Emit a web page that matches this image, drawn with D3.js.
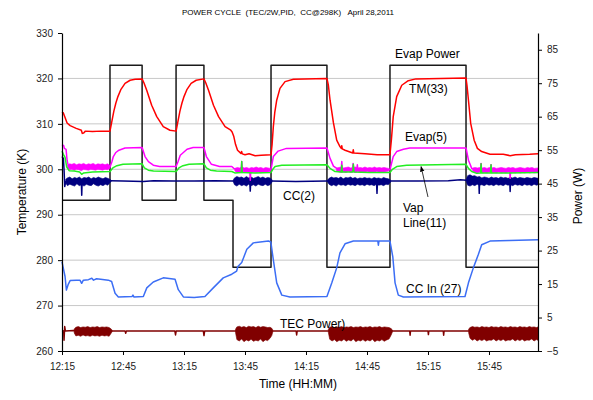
<!DOCTYPE html>
<html>
<head>
<meta charset="utf-8">
<script src="https://cdn.jsdelivr.net/npm/d3@7"></script>
<style>
  body { margin: 0; background: #fff; }
  svg text { font-family: "Liberation Sans", Arial, sans-serif; }
</style>
</head>
<body>
<svg id="chart" width="593" height="400"></svg>
<script>
// ---- axis ticks ----
const timeTicks  = ["12:15", "12:45", "13:15", "13:45", "14:15", "14:45", "15:15", "15:45"];
const tempTicks  = [260, 270, 280, 290, 300, 310, 320, 330];
const powerTicks = [-5, 5, 15, 25, 35, 45, 55, 65, 75, 85];

// ---- Evap heater power (W), stepped set-points ----
const evapPower = [
  ["12:15:00", 40], ["12:38:36", 80.4], ["12:54:24", 40], ["13:11:06", 80.4], ["13:24:48", 40],
  ["13:39:06", 20], ["13:57:48", 80.4], ["14:25:18", 20], ["14:56:18", 80.4], ["15:33:42", 20],
  ["16:09:06", 20]
];

// ---- TM(33) temperature (K) ----
const tm33 = [
  ["12:15:00", 312.6], ["12:15:40", 312.4], ["12:16:30", 311.4], ["12:17:30", 310.2], ["12:19:00", 309.6],
  ["12:22:00", 309.0], ["12:24:30", 308.6], ["12:25:00", 307.9], ["12:25:40", 308.0], ["12:26:30", 308.4],
  ["12:30:00", 308.3], ["12:34:00", 308.4], ["12:38:36", 308.4],
  ["12:39:30", 310.5], ["12:40:30", 312.8], ["12:41:30", 314.6], ["12:42:30", 316.0], ["12:44:00", 317.6],
  ["12:46:00", 318.9], ["12:48:30", 319.6], ["12:51:00", 319.8], ["12:54:24", 319.9],
  ["12:55:20", 319.0], ["12:56:40", 317.4], ["12:59:06", 314.1], ["13:01:36", 311.6], ["13:04:48", 309.4],
  ["13:08:06", 308.6], ["13:11:06", 308.4],
  ["13:12:00", 310.5], ["13:13:00", 312.8], ["13:14:00", 314.6], ["13:15:00", 316.0], ["13:16:30", 317.6],
  ["13:18:30", 318.9], ["13:21:00", 319.6], ["13:24:48", 319.9],
  ["13:25:44", 319.0], ["13:27:04", 317.4], ["13:29:30", 314.1], ["13:32:00", 311.6], ["13:35:12", 309.4],
  ["13:38:00", 308.6], ["13:38:40", 308.2], ["13:39:30", 307.2], ["13:40:20", 305.5], ["13:41:20", 304.2],
  ["13:43:00", 303.5], ["13:43:20", 303.9], ["13:43:40", 303.4], ["13:45:00", 303.2], ["13:47:00", 303.4],
  ["13:50:00", 303.0], ["13:53:00", 303.1], ["13:57:48", 303.2],
  ["13:58:20", 305.5], ["13:58:56", 309.4], ["13:59:40", 312.6], ["14:00:36", 315.2], ["14:02:12", 317.8],
  ["14:04:42", 319.3], ["14:08:48", 319.8], ["14:25:18", 320.0],
  ["14:26:00", 318.5], ["14:26:50", 315.2], ["14:28:30", 310.2], ["14:30:06", 306.4], ["14:31:42", 305.0],
  ["14:32:20", 304.6], ["14:32:35", 305.2], ["14:32:50", 304.5], ["14:34:12", 304.2], ["14:38:00", 303.6],
  ["14:38:15", 304.3], ["14:38:30", 303.6], ["14:44:00", 303.4], ["14:50:00", 303.2], ["14:56:18", 303.2],
  ["14:57:00", 306.5], ["14:57:54", 311.6], ["14:59:36", 316.0], ["15:02:06", 318.5], ["15:05:18", 319.5],
  ["15:09:00", 319.9], ["15:33:42", 320.1],
  ["15:34:10", 318.5], ["15:34:54", 315.2], ["15:36:00", 310.1], ["15:37:42", 306.4], ["15:39:18", 304.6],
  ["15:41:24", 303.9], ["15:45:30", 303.3], ["15:52:00", 303.3], ["15:55:24", 303.0], ["15:58:00", 303.2],
  ["16:05:00", 303.3], ["16:09:06", 303.4]
];

// ---- Evap(5) temperature (K) ----
const evap5 = [
  ["12:15:00", 305.4], ["12:15:50", 305.2], ["12:16:10", 304.6], ["12:17:00", 304.4], ["12:17:30", 302.0],
  ["12:18:10", 300.6], ["12:20:00", 300.5], ["12:25:00", 300.4], ["12:30:00", 300.5], ["12:38:36", 300.5],
  ["12:39:30", 301.6], ["12:40:15", 302.8], ["12:41:30", 303.7], ["12:43:00", 304.2], ["12:46:00", 304.7],
  ["12:54:24", 304.8],
  ["12:55:50", 302.8], ["12:57:30", 301.7], ["12:59:54", 300.9], ["13:03:00", 300.6], ["13:11:06", 300.6],
  ["13:12:00", 301.6], ["13:13:10", 303.1], ["13:16:30", 304.4], ["13:19:30", 304.8], ["13:24:48", 304.8],
  ["13:26:00", 302.8], ["13:28:30", 301.1], ["13:32:30", 300.6], ["13:38:30", 300.6], ["13:39:30", 300.2],
  ["13:41:00", 299.9], ["13:43:10", 299.9], ["13:43:24", 301.7], ["13:43:38", 299.9], ["13:47:20", 299.8],
  ["13:47:36", 297.6], ["13:47:52", 299.8], ["13:57:48", 299.9],
  ["13:58:56", 302.8], ["14:01:18", 304.0], ["14:05:24", 304.6], ["14:25:18", 304.7],
  ["14:26:50", 302.4], ["14:28:30", 300.7], ["14:30:06", 300.2], ["14:32:20", 299.9], ["14:32:36", 301.7],
  ["14:32:52", 299.9], ["14:37:50", 299.9], ["14:38:10", 301.3], ["14:38:30", 299.9], ["14:40:00", 299.9],
  ["14:40:15", 301.0], ["14:40:30", 299.9], ["14:56:18", 299.9],
  ["14:57:54", 302.8], ["14:59:36", 303.9], ["15:02:54", 304.4], ["15:06:00", 304.7], ["15:33:42", 304.7],
  ["15:34:54", 302.0], ["15:36:30", 300.2], ["15:39:00", 299.8], ["15:40:50", 299.8], ["15:41:06", 301.3],
  ["15:41:22", 299.8], ["15:45:45", 299.8], ["15:46:00", 301.0], ["15:46:15", 299.8], ["15:55:10", 299.8],
  ["15:55:24", 298.0], ["15:55:40", 299.8], ["16:09:06", 299.8]
];

// Evap(5) scatter envelope while the loop is idling: [time, low, high] (K)
const evap5Noise = [
  [["12:17:50", 300.3, 300.9], ["12:18:40", 299.9, 301.2], ["12:19:50", 300.0, 301.1], ["12:21:00", 299.8, 301.3],
   ["12:22:10", 300.0, 301.0], ["12:23:20", 299.9, 301.2], ["12:24:30", 299.7, 301.1], ["12:25:40", 300.0, 301.3],
   ["12:26:50", 299.9, 301.0], ["12:28:00", 299.8, 301.2], ["12:29:10", 300.0, 301.1], ["12:30:20", 299.9, 301.3],
   ["12:31:30", 299.8, 301.0], ["12:32:40", 300.0, 301.2], ["12:33:50", 299.9, 301.1], ["12:35:00", 299.8, 301.2],
   ["12:36:10", 300.0, 301.0], ["12:37:20", 299.9, 301.2], ["12:38:30", 300.2, 300.9]],
  [["13:40:00", 299.6, 300.2], ["13:41:10", 299.3, 300.4], ["13:42:20", 299.4, 300.3], ["13:43:30", 299.2, 300.5],
   ["13:44:40", 299.4, 300.3], ["13:45:50", 299.3, 300.4], ["13:47:00", 299.4, 300.2], ["13:48:10", 299.2, 300.4],
   ["13:49:20", 299.4, 300.3], ["13:50:30", 299.3, 300.5], ["13:51:40", 299.4, 300.3], ["13:52:50", 299.2, 300.4],
   ["13:54:00", 299.4, 300.2], ["13:55:10", 299.3, 300.4], ["13:56:20", 299.4, 300.3], ["13:57:30", 299.5, 300.2]],
  [["14:30:00", 299.7, 300.3], ["14:31:10", 299.4, 300.4], ["14:32:20", 299.3, 300.5], ["14:33:30", 299.4, 300.3],
   ["14:34:40", 299.3, 300.4], ["14:35:50", 299.5, 300.5], ["14:37:00", 299.3, 300.3], ["14:38:10", 299.4, 300.4],
   ["14:39:20", 299.3, 300.5], ["14:40:30", 299.5, 300.3], ["14:41:40", 299.3, 300.4], ["14:42:50", 299.4, 300.3],
   ["14:44:00", 299.3, 300.5], ["14:45:10", 299.5, 300.3], ["14:46:20", 299.3, 300.4], ["14:47:30", 299.4, 300.3],
   ["14:48:40", 299.3, 300.5], ["14:49:50", 299.5, 300.3], ["14:51:00", 299.3, 300.4], ["14:52:10", 299.4, 300.3],
   ["14:53:20", 299.3, 300.4], ["14:54:30", 299.5, 300.3], ["14:55:40", 299.6, 300.2]],
  [["15:37:00", 299.6, 300.3], ["15:38:10", 299.3, 300.4], ["15:39:20", 299.2, 300.3], ["15:40:30", 299.4, 300.4],
   ["15:41:40", 299.2, 300.3], ["15:42:50", 299.3, 300.4], ["15:44:00", 299.2, 300.2], ["15:45:10", 299.4, 300.4],
   ["15:46:20", 299.2, 300.3], ["15:47:30", 299.3, 300.4], ["15:48:40", 299.2, 300.2], ["15:49:50", 299.4, 300.3],
   ["15:51:00", 299.2, 300.4], ["15:52:10", 299.3, 300.3], ["15:53:20", 299.2, 300.2], ["15:54:30", 299.4, 300.4],
   ["15:55:40", 299.2, 300.3], ["15:56:50", 299.3, 300.4], ["15:58:00", 299.2, 300.2], ["15:59:10", 299.4, 300.3],
   ["16:00:20", 299.2, 300.4], ["16:01:30", 299.3, 300.3], ["16:02:40", 299.2, 300.2], ["16:03:50", 299.4, 300.4],
   ["16:05:00", 299.2, 300.3], ["16:06:10", 299.3, 300.4], ["16:07:20", 299.2, 300.2], ["16:09:06", 299.3, 300.3]]
];

// ---- Vap Line(11) temperature (K) ----
const vapLine11 = [
  ["12:15:00", 304.0], ["12:15:40", 303.3], ["12:16:30", 302.6], ["12:17:20", 300.5], ["12:18:30", 299.7],
  ["12:21:00", 299.6], ["12:23:40", 299.4], ["12:24:40", 298.9], ["12:25:40", 299.2], ["12:30:00", 299.4],
  ["12:38:36", 299.5],
  ["12:40:00", 300.3], ["12:42:00", 300.8], ["12:45:00", 301.1], ["12:54:24", 301.2],
  ["12:55:30", 300.3], ["12:57:30", 299.8], ["13:00:00", 299.6], ["13:11:06", 299.5],
  ["13:12:30", 300.3], ["13:14:30", 300.8], ["13:17:30", 301.1], ["13:24:48", 301.2],
  ["13:26:00", 300.3], ["13:28:00", 299.8], ["13:31:00", 299.6], ["13:38:30", 299.5], ["13:40:00", 299.2],
  ["13:43:10", 299.3], ["13:43:24", 301.7], ["13:43:38", 299.3], ["13:50:00", 299.2], ["13:57:48", 299.3],
  ["13:58:40", 300.0], ["13:59:48", 300.6], ["14:03:06", 300.9], ["14:25:18", 301.0],
  ["14:26:50", 300.2], ["14:29:18", 299.5], ["14:32:20", 299.4], ["14:32:36", 300.9], ["14:32:52", 299.4],
  ["14:38:00", 299.4], ["14:38:18", 301.1], ["14:38:36", 299.4], ["14:46:00", 299.3], ["14:56:18", 299.3],
  ["14:57:30", 300.0], ["14:59:36", 300.6], ["15:04:30", 300.9], ["15:33:42", 301.1],
  ["15:34:54", 300.2], ["15:36:30", 299.5], ["15:39:00", 299.1], ["15:40:50", 299.2], ["15:41:06", 301.2],
  ["15:41:22", 299.2], ["15:45:45", 299.2], ["15:46:00", 301.0], ["15:46:15", 299.2], ["15:55:00", 299.2],
  ["16:09:06", 299.3]
];

// ---- CC(2) temperature (K) ----
const cc2 = [
  ["12:15:00", 302.8], ["12:15:40", 302.4], ["12:16:00", 300.0], ["12:16:20", 296.2], ["12:16:50", 297.3],
  ["12:20:00", 297.4], ["12:24:30", 297.4], ["12:24:42", 294.3], ["12:24:54", 297.4], ["12:30:00", 297.5],
  ["12:38:36", 297.5], ["12:45:00", 297.4], ["12:55:00", 297.3], ["13:00:00", 297.5], ["13:10:00", 297.4],
  ["13:20:00", 297.4], ["13:30:00", 297.5], ["13:39:06", 297.4], ["13:47:20", 297.4], ["13:47:35", 295.2],
  ["13:47:50", 297.4], ["13:57:48", 297.4], ["14:10:00", 297.3], ["14:25:18", 297.4], ["14:49:40", 297.4],
  ["14:49:55", 294.7], ["14:50:10", 297.4], ["14:56:18", 297.4], ["15:10:00", 297.4], ["15:25:00", 297.5],
  ["15:31:00", 297.7], ["15:33:42", 297.6], ["15:40:00", 297.5], ["15:40:12", 294.7], ["15:40:24", 297.5],
  ["15:55:12", 297.4], ["15:55:24", 295.1], ["15:55:36", 297.4], ["16:09:06", 297.4]
];

// CC(2) scatter envelope while the loop is idling: [time, low, high] (K)
const cc2Noise = [
  [["12:16:50", 297.0, 297.8], ["12:17:40", 296.4, 298.1], ["12:18:50", 296.7, 298.3], ["12:20:00", 296.5, 297.9],
   ["12:21:10", 296.3, 298.2], ["12:22:20", 296.8, 298.0], ["12:23:30", 296.4, 298.3], ["12:24:40", 296.6, 297.9],
   ["12:25:50", 296.3, 298.2], ["12:27:00", 296.7, 298.1], ["12:28:10", 296.5, 298.3], ["12:29:20", 296.4, 297.9],
   ["12:30:30", 296.8, 298.2], ["12:31:40", 296.5, 298.0], ["12:32:50", 296.3, 298.3], ["12:34:00", 296.6, 298.1],
   ["12:35:10", 296.4, 297.9], ["12:36:20", 296.7, 298.2], ["12:37:30", 296.5, 298.0], ["12:38:30", 297.0, 297.8],
   ["12:39:10", 297.3, 297.6]],
  [["13:39:10", 297.3, 297.6], ["13:39:50", 296.6, 298.1], ["13:41:00", 296.3, 298.4], ["13:42:10", 296.7, 298.2],
   ["13:43:20", 296.4, 298.3], ["13:44:30", 296.6, 298.0], ["13:45:40", 296.3, 298.4], ["13:46:50", 296.7, 298.1],
   ["13:48:00", 296.4, 298.3], ["13:49:10", 296.6, 298.0], ["13:50:20", 296.3, 298.2], ["13:51:30", 296.7, 298.4],
   ["13:52:40", 296.5, 298.1], ["13:53:50", 296.4, 298.3], ["13:55:00", 296.7, 298.0], ["13:56:10", 296.4, 298.2],
   ["13:57:20", 296.6, 298.1], ["13:58:20", 297.2, 297.7]],
  [["14:25:30", 297.3, 297.6], ["14:26:20", 296.7, 298.0], ["14:27:30", 296.4, 298.3], ["14:28:40", 296.6, 298.1],
   ["14:29:50", 296.3, 298.2], ["14:31:00", 296.7, 298.0], ["14:32:10", 296.5, 298.3], ["14:33:20", 296.6, 297.9],
   ["14:34:30", 296.4, 298.2], ["14:35:40", 296.7, 298.1], ["14:36:50", 296.5, 298.3], ["14:38:00", 296.6, 298.0],
   ["14:39:10", 296.4, 298.2], ["14:40:20", 296.7, 297.9], ["14:41:30", 296.5, 298.1], ["14:42:40", 296.6, 298.0],
   ["14:43:50", 296.4, 298.2], ["14:45:00", 296.7, 298.0], ["14:46:10", 296.5, 298.1], ["14:47:20", 296.6, 297.9],
   ["14:48:30", 296.4, 298.2], ["14:49:40", 296.7, 298.0], ["14:50:50", 296.5, 298.1], ["14:52:00", 296.6, 297.9],
   ["14:53:10", 296.4, 298.2], ["14:54:20", 296.7, 298.0], ["14:55:30", 296.6, 297.9], ["14:56:40", 297.2, 297.6]],
  [["15:33:50", 297.3, 297.8], ["15:34:30", 296.5, 298.6], ["15:35:40", 296.3, 298.8], ["15:36:50", 296.6, 298.5],
   ["15:38:00", 296.4, 298.6], ["15:39:10", 296.7, 298.3], ["15:40:20", 296.5, 298.4], ["15:41:30", 296.6, 298.1],
   ["15:42:40", 296.4, 298.3], ["15:43:50", 296.7, 298.2], ["15:45:00", 296.5, 298.0], ["15:46:10", 296.6, 298.3],
   ["15:47:20", 296.4, 298.1], ["15:48:30", 296.7, 298.2], ["15:49:40", 296.5, 298.0], ["15:50:50", 296.6, 298.3],
   ["15:52:00", 296.4, 298.1], ["15:53:10", 296.7, 298.2], ["15:54:20", 296.5, 298.0], ["15:55:30", 296.6, 298.2],
   ["15:56:40", 296.4, 298.1], ["15:57:50", 296.7, 298.3], ["15:59:00", 296.5, 298.0], ["16:00:10", 296.6, 298.2],
   ["16:01:20", 296.4, 298.1], ["16:02:30", 296.7, 298.0], ["16:03:40", 296.5, 298.2], ["16:04:50", 296.6, 298.1],
   ["16:06:00", 296.4, 298.0], ["16:07:10", 296.7, 298.2], ["16:08:20", 296.5, 298.1], ["16:09:06", 296.6, 298.0]]
];

// ---- CC In (27) temperature (K) ----
const ccIn27 = [
  ["12:15:00", 279.6], ["12:15:40", 278.2], ["12:16:30", 276.4], ["12:17:10", 273.4], ["12:18:00", 274.6],
  ["12:19:00", 275.5], ["12:22:00", 275.6], ["12:23:50", 275.6], ["12:24:40", 274.9], ["12:25:30", 275.6],
  ["12:28:00", 275.7], ["12:29:40", 276.0], ["12:30:30", 275.6], ["12:32:00", 275.9], ["12:34:00", 275.8],
  ["12:37:48", 275.6],
  ["12:39:24", 275.3], ["12:41:06", 272.7], ["12:42:42", 271.9], ["12:49:30", 272.0], ["12:49:54", 272.3],
  ["12:50:20", 271.9], ["12:55:00", 272.0],
  ["12:56:42", 273.9], ["12:59:54", 275.2], ["13:04:48", 276.1], ["13:10:36", 275.8],
  ["13:12:12", 273.5], ["13:14:42", 271.9], ["13:20:00", 271.8], ["13:25:18", 272.0],
  ["13:29:24", 273.9], ["13:34:18", 276.1], ["13:38:30", 276.9], ["13:40:54", 277.6], ["13:41:30", 278.6],
  ["13:43:24", 279.5], ["13:45:54", 282.4], ["13:49:06", 283.8], ["13:56:30", 284.2], ["13:57:42", 284.0],
  ["13:58:54", 280.2], ["14:00:36", 275.0], ["14:03:06", 272.3], ["14:07:06", 271.9], ["14:25:18", 272.0],
  ["14:27:42", 275.0], ["14:30:06", 278.3], ["14:31:42", 281.6], ["14:34:12", 283.6], ["14:38:18", 284.2],
  ["14:50:20", 284.2], ["14:50:36", 283.3], ["14:50:52", 284.2], ["14:56:18", 284.2],
  ["14:57:42", 280.7], ["14:58:48", 275.0], ["15:00:24", 272.3], ["15:02:54", 271.9], ["15:33:12", 272.0],
  ["15:34:54", 275.0], ["15:37:18", 278.3], ["15:39:48", 281.3], ["15:41:24", 283.4], ["15:45:30", 284.2],
  ["15:55:00", 284.3], ["16:09:06", 284.5]
];

// ---- TEC power (W) ----
const tecPower = [
  ["12:15:00", 1.1], ["12:15:50", 1.0], ["12:16:00", -1.8], ["12:16:20", 2.3], ["12:16:40", 1.0],
  ["12:20:30", 1.1], ["12:39:40", 1.0], ["12:46:00", 1.0], ["12:46:20", 0.3], ["12:46:40", 1.0],
  ["13:10:30", 1.0], ["13:10:50", -0.2], ["13:11:10", 1.0], ["13:24:30", 1.0], ["13:24:50", -0.4],
  ["13:25:10", 1.0], ["13:39:30", 1.0], ["13:58:30", 1.0], ["14:10:10", 1.0], ["14:10:24", -0.2],
  ["14:10:40", 1.0], ["14:25:30", 1.0], ["14:57:00", 1.0], ["15:06:00", 1.0], ["15:06:12", -0.3],
  ["15:06:24", 1.0], ["15:15:00", 1.0], ["15:15:12", -0.1], ["15:15:24", 1.0], ["15:22:30", 1.0],
  ["15:22:42", -0.3], ["15:22:54", 1.0], ["15:34:00", 1.0], ["16:09:06", 1.0]
];

// TEC power scatter envelope while regulating: [time, low, high] (W)
const tecNoise = [
  [["12:21:00", 0.4, 1.6], ["12:21:50", -0.5, 2.1], ["12:23:00", -0.3, 2.3], ["12:24:10", -0.6, 2.0],
   ["12:25:20", -0.2, 2.2], ["12:26:30", -0.5, 2.1], ["12:27:40", -0.4, 2.3], ["12:28:50", -0.6, 2.0],
   ["12:30:00", -0.3, 2.2], ["12:31:10", -0.5, 2.1], ["12:32:20", -0.4, 2.3], ["12:33:30", -0.6, 2.0],
   ["12:34:40", -0.3, 2.2], ["12:35:50", -0.5, 2.1], ["12:37:00", -0.4, 2.2], ["12:38:10", -0.6, 2.0],
   ["12:39:10", 0.3, 1.6], ["12:39:40", 0.8, 1.2]],
  [["13:40:20", 0.5, 1.5], ["13:41:00", -1.6, 2.2], ["13:42:10", -2.0, 2.4], ["13:43:20", -1.4, 2.1],
   ["13:44:30", -2.2, 2.3], ["13:45:40", -1.7, 2.0], ["13:46:50", -2.0, 2.4], ["13:48:00", -1.5, 2.2],
   ["13:49:10", -2.1, 2.3], ["13:50:20", -1.8, 2.0], ["13:51:30", -2.0, 2.4], ["13:52:40", -1.4, 2.1],
   ["13:53:50", -2.2, 2.3], ["13:55:00", -1.7, 2.2], ["13:56:10", -1.9, 2.0], ["13:57:20", -1.2, 2.1],
   ["13:58:10", -0.4, 1.8], ["13:58:40", 0.7, 1.3]],
  [["14:26:00", 0.5, 1.5], ["14:26:40", -1.5, 2.1], ["14:27:50", -2.0, 2.3], ["14:29:00", -1.6, 2.0],
   ["14:30:10", -2.2, 2.2], ["14:31:20", -1.8, 2.1], ["14:32:30", -2.0, 2.3], ["14:33:40", -1.5, 2.0],
   ["14:34:50", -2.1, 2.2], ["14:36:00", -1.7, 2.1], ["14:37:10", -2.0, 2.3], ["14:38:20", -1.4, 2.0],
   ["14:39:30", -2.2, 2.2], ["14:40:40", -1.8, 2.1], ["14:41:50", -2.0, 2.3], ["14:43:00", -1.6, 2.0],
   ["14:44:10", -2.1, 2.2], ["14:45:20", -1.7, 2.1], ["14:46:30", -2.0, 2.3], ["14:47:40", -1.5, 2.0],
   ["14:48:50", -2.2, 2.2], ["14:50:00", -1.8, 2.1], ["14:51:10", -2.0, 2.3], ["14:52:20", -1.6, 2.0],
   ["14:53:30", -2.1, 2.2], ["14:54:40", -1.7, 2.1], ["14:55:50", -1.4, 2.0], ["14:56:50", -0.3, 1.7],
   ["14:57:30", 0.7, 1.3]],
  [["15:35:00", 0.4, 1.6], ["15:35:40", -1.2, 2.0], ["15:36:50", -1.8, 2.3], ["15:38:00", -1.4, 2.1],
   ["15:39:10", -2.0, 2.2], ["15:40:20", -1.6, 2.0], ["15:41:30", -1.9, 2.3], ["15:42:40", -1.5, 2.1],
   ["15:43:50", -2.0, 2.2], ["15:45:00", -1.7, 2.0], ["15:46:10", -1.8, 2.3], ["15:47:20", -1.4, 2.1],
   ["15:48:30", -2.0, 2.2], ["15:49:40", -1.6, 2.0], ["15:50:50", -1.9, 2.3], ["15:52:00", -1.5, 2.1],
   ["15:53:10", -2.0, 2.2], ["15:54:20", -1.7, 2.0], ["15:55:30", -1.8, 2.3], ["15:56:40", -1.4, 2.1],
   ["15:57:50", -2.0, 2.2], ["15:59:00", -1.6, 2.0], ["16:00:10", -1.9, 2.3], ["16:01:20", -1.5, 2.1],
   ["16:02:30", -2.0, 2.2], ["16:03:40", -1.7, 2.0], ["16:04:50", -1.8, 2.3], ["16:06:00", -1.4, 2.1],
   ["16:07:10", -2.0, 2.2], ["16:08:20", -1.6, 2.0], ["16:09:06", -1.8, 2.2]]
];

// ---- layout ----
const W = 593, H = 400;
const margin = { top: 33, right: 55, bottom: 49, left: 62 };
const plotW = W - margin.left - margin.right;
const plotH = H - margin.top - margin.bottom;

// "HH:MM" or "HH:MM:SS" -> minutes since midnight
const clock = s => { const p = s.split(":").map(Number); return p[0] * 60 + p[1] + (p[2] || 0) / 60; };
const fmtClock = m => { const h = Math.floor(m / 60), mm = Math.round(m - h * 60); return h + ":" + String(mm).padStart(2, "0"); };

const x  = d3.scaleLinear().domain([clock("12:15:00"), clock("16:09:06")]).range([0, plotW]);
const yT = d3.scaleLinear().domain([260, 330]).range([plotH, 0]);
const yP = d3.scaleLinear().domain([-5, 90]).range([plotH, 0]);

const svg = d3.select("#chart");
const g = svg.append("g").attr("transform", `translate(${margin.left},${margin.top})`);

// horizontal gridlines on the temperature ticks
g.append("g").selectAll("line")
  .data(tempTicks.filter(v => v > 260 && v < 330))
  .join("line")
  .attr("x1", 0).attr("x2", plotW)
  .attr("y1", d => yT(d)).attr("y2", d => yT(d))
  .attr("stroke", "#c8c8c8").attr("stroke-width", 1);

const toPts = arr => arr.map(([t, v]) => ({ t: clock(t), v }));
const toBand = arr => arr.map(([t, lo, hi]) => ({ t: clock(t), lo, hi }));

function drawLine(data, y, color, width, curve) {
  g.append("path")
    .datum(toPts(data))
    .attr("fill", "none")
    .attr("stroke", color)
    .attr("stroke-width", width)
    .attr("stroke-linejoin", "round")
    .attr("d", d3.line().x(d => x(d.t)).y(d => y(d.v)).curve(curve || d3.curveLinear));
}
function drawBands(segments, y, color) {
  const area = d3.area().x(d => x(d.t)).y0(d => y(d.lo)).y1(d => y(d.hi));
  segments.forEach(seg => {
    g.append("path")
      .datum(toBand(seg))
      .attr("fill", color)
      .attr("stroke", color)
      .attr("stroke-width", 0.6)
      .attr("d", area);
  });
}

// series
drawLine(evapPower, yP, "#1a1a1a", 1.5, d3.curveStepAfter);
drawBands(tecNoise, yP, "#800000");
drawLine(tecPower, yP, "#800000", 1.5);
drawLine(ccIn27, yT, "#3c6ef5", 1.5);
drawBands(cc2Noise, yT, "#000080");
drawLine(cc2, yT, "#000080", 1.5);
drawBands(evap5Noise, yT, "#ff00ff");
drawLine(evap5, yT, "#ff00ff", 1.5);
drawLine(vapLine11, yT, "#22ee22", 1.5);
drawLine(tm33, yT, "#ff0000", 1.5);

// axes
const axisStyle = sel => {
  sel.selectAll("path.domain").attr("stroke", "#000").attr("stroke-width", 1.2);
  sel.selectAll(".tick line").attr("stroke", "#000");
  sel.selectAll("text").attr("font-size", 10).attr("fill", "#222")
     .attr("font-family", "'Liberation Sans', Arial, sans-serif");
};
g.append("g")
  .call(d3.axisLeft(yT).tickValues(tempTicks).tickSize(4).tickSizeOuter(0).tickPadding(5))
  .call(axisStyle);
g.append("g")
  .attr("transform", `translate(${plotW},0)`)
  .call(d3.axisRight(yP).tickValues(powerTicks).tickSize(4).tickSizeOuter(0).tickPadding(5))
  .call(axisStyle);
g.append("g")
  .attr("transform", `translate(0,${plotH})`)
  .call(d3.axisBottom(x).tickValues(timeTicks.map(clock)).tickFormat(fmtClock)
        .tickSize(4).tickSizeOuter(0).tickPadding(8))
  .call(axisStyle);

// series annotations
const note = (txt, t, v, y) =>
  g.append("text").attr("x", x(clock(t))).attr("y", y(v))
   .attr("font-size", 12).attr("fill", "#000").text(txt);
note("Evap Power", "14:58:48", 82.4, yP);
note("TM(33)", "15:05:42", 316.8, yT);
note("Evap(5)", "15:03:42", 306.2, yT);
note("CC(2)", "14:03:42", 293.2, yT);
note("Vap", "15:02:42", 290.7, yT);
note("Line(11)", "15:02:42", 287.4, yT);
note("CC In (27)", "15:04:12", 272.8, yT);
note("TEC Power)", "14:02:12", 2.0, yP);

// arrow from the Vap Line label up to its trace
svg.append("defs").append("marker")
  .attr("id", "arrowhead").attr("viewBox", "0 0 10 10")
  .attr("refX", 9).attr("refY", 5)
  .attr("markerWidth", 7).attr("markerHeight", 7)
  .attr("orient", "auto")
  .append("path").attr("d", "M0,1 L10,5 L0,9 Z").attr("fill", "#000");
g.append("line")
  .attr("x1", x(clock("15:15:00"))).attr("y1", yT(293.9))
  .attr("x2", x(clock("15:11:36"))).attr("y2", yT(300.6))
  .attr("stroke", "#000").attr("stroke-width", 0.8)
  .attr("marker-end", "url(#arrowhead)");

// titles
svg.append("text")
  .attr("x", 288).attr("y", 15).attr("text-anchor", "middle")
  .attr("font-size", 8).attr("fill", "#000")
  .style("white-space", "pre")
  .text("POWER CYCLE  (TEC/2W,PID,  CC@298K)   April 28,2011");
svg.append("text")
  .attr("transform", `translate(26,${margin.top + plotH / 2}) rotate(-90)`)
  .attr("text-anchor", "middle").attr("font-size", 12).attr("fill", "#000")
  .text("Temperature (K)");
svg.append("text")
  .attr("transform", `translate(582,${margin.top + plotH / 2 + 4}) rotate(-90)`)
  .attr("text-anchor", "middle").attr("font-size", 12).attr("fill", "#000")
  .text("Power (W)");
svg.append("text")
  .attr("x", margin.left + 236).attr("y", 388).attr("text-anchor", "middle")
  .attr("font-size", 12).attr("fill", "#000")
  .text("Time (HH:MM)");
</script>
</body>
</html>
